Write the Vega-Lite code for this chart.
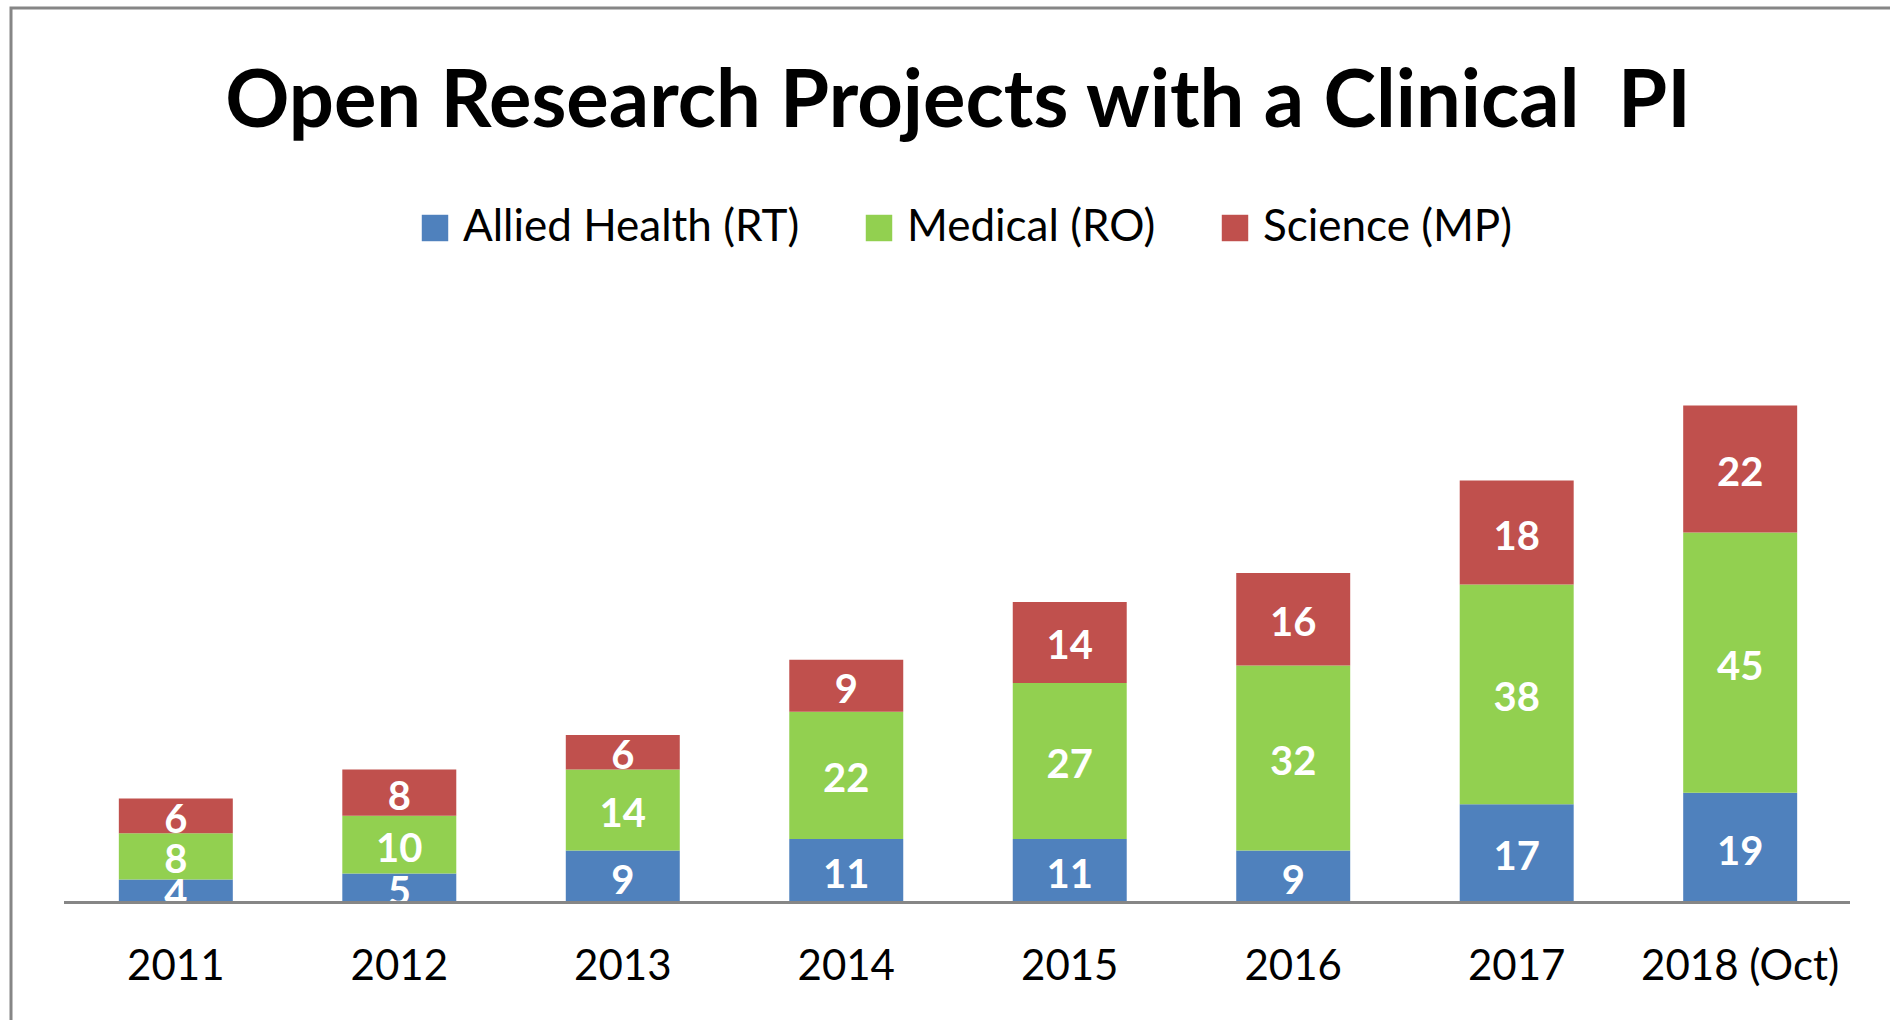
{
  "$schema": "https://vega.github.io/schema/vega-lite/v6.json",
  "width": 1894,
  "height": 1020,
  "autosize": {"type": "none"},
  "padding": {"left": 11, "top": 8, "right": 0, "bottom": 0},
  "background": "white",
  "title": {
    "text": "Open Research Projects with a Clinical \u00a0PI",
    "frame": "group",
    "anchor": "middle",
    "orient": "top",
    "offset": -198,
    "baseline": "alphabetic",
    "font": "Lato",
    "fontSize": 79.5,
    "fontWeight": "bold",
    "color": "#000000"
  },
  "data": {
    "values": [
      {"year": "2011", "category": "Allied Health (RT)", "value": 4},
      {"year": "2011", "category": "Medical (RO)", "value": 8},
      {"year": "2011", "category": "Science (MP)", "value": 6},
      {"year": "2012", "category": "Allied Health (RT)", "value": 5},
      {"year": "2012", "category": "Medical (RO)", "value": 10},
      {"year": "2012", "category": "Science (MP)", "value": 8},
      {"year": "2013", "category": "Allied Health (RT)", "value": 9},
      {"year": "2013", "category": "Medical (RO)", "value": 14},
      {"year": "2013", "category": "Science (MP)", "value": 6},
      {"year": "2014", "category": "Allied Health (RT)", "value": 11},
      {"year": "2014", "category": "Medical (RO)", "value": 22},
      {"year": "2014", "category": "Science (MP)", "value": 9},
      {"year": "2015", "category": "Allied Health (RT)", "value": 11},
      {"year": "2015", "category": "Medical (RO)", "value": 27},
      {"year": "2015", "category": "Science (MP)", "value": 14},
      {"year": "2016", "category": "Allied Health (RT)", "value": 9},
      {"year": "2016", "category": "Medical (RO)", "value": 32},
      {"year": "2016", "category": "Science (MP)", "value": 16},
      {"year": "2017", "category": "Allied Health (RT)", "value": 17},
      {"year": "2017", "category": "Medical (RO)", "value": 38},
      {"year": "2017", "category": "Science (MP)", "value": 18},
      {"year": "2018 (Oct)", "category": "Allied Health (RT)", "value": 19},
      {"year": "2018 (Oct)", "category": "Medical (RO)", "value": 45},
      {"year": "2018 (Oct)", "category": "Science (MP)", "value": 22}
    ]
  },
  "config": {
    "view": {"stroke": "#868686", "strokeWidth": 3},
    "axis": {"grid": false}
  },
  "layer": [
    {
      "mark": {"type": "bar"},
      "encoding": {
        "x": {
          "field": "year",
          "type": "nominal",
          "scale": {"paddingInner": 0.49, "paddingOuter": 0.4825},
          "axis": {
            "orient": "bottom",
            "offset": -125.5,
            "domain": false,
            "ticks": false,
            "tickSize": 0,
            "labelAngle": 0,
            "labelPadding": 77,
            "labelBaseline": "alphabetic",
            "labelFont": "Lato",
            "labelFontSize": 42,
            "labelLimit": 1000,
            "labelColor": "#000000",
            "title": null
          }
        },
        "y": {
          "field": "value",
          "type": "quantitative",
          "stack": "zero",
          "scale": {"domain": [-21.71, 154.76], "nice": false, "zero": false},
          "axis": null
        },
        "order": {"field": "category", "sort": "ascending"},
        "color": {
          "field": "category",
          "type": "nominal",
          "scale": {
            "domain": ["Allied Health (RT)", "Medical (RO)", "Science (MP)"],
            "range": ["#4F81BD", "#92D050", "#C0504D"]
          },
          "legend": {
            "orient": "none",
            "legendX": 402,
            "legendY": 198,
            "direction": "horizontal",
            "title": null,
            "symbolType": "square",
            "symbolSize": 700,
            "symbolStrokeWidth": 0,
            "symbolOpacity": 1,
            "labelFont": "Lato",
            "labelFontSize": 44,
            "labelColor": "#000000",
            "labelLimit": 1000,
            "labelOffset": 6,
            "columnPadding": 57,
            "padding": 0
          }
        }
      }
    },
    {
      "mark": {"type": "text", "font": "Lato", "fontWeight": "bold", "fontSize": 40, "color": "white", "baseline": "middle", "dy": 5},
      "encoding": {
        "x": {"field": "year", "type": "nominal"},
        "y": {"field": "value", "type": "quantitative", "stack": "zero", "bandPosition": 0.5},
        "detail": {"field": "category"},
        "order": {"field": "category", "sort": "ascending"},
        "text": {"field": "value", "type": "quantitative"}
      }
    },
    {
      "mark": {"type": "rule", "color": "#868686", "strokeWidth": 2},
      "encoding": {
        "y": {"datum": 0, "type": "quantitative"},
        "x": {"datum": "2011", "type": "nominal", "bandPosition": -0.48},
        "x2": {"datum": "2018 (Oct)", "bandPosition": 1.46}
      }
    }
  ]
}
